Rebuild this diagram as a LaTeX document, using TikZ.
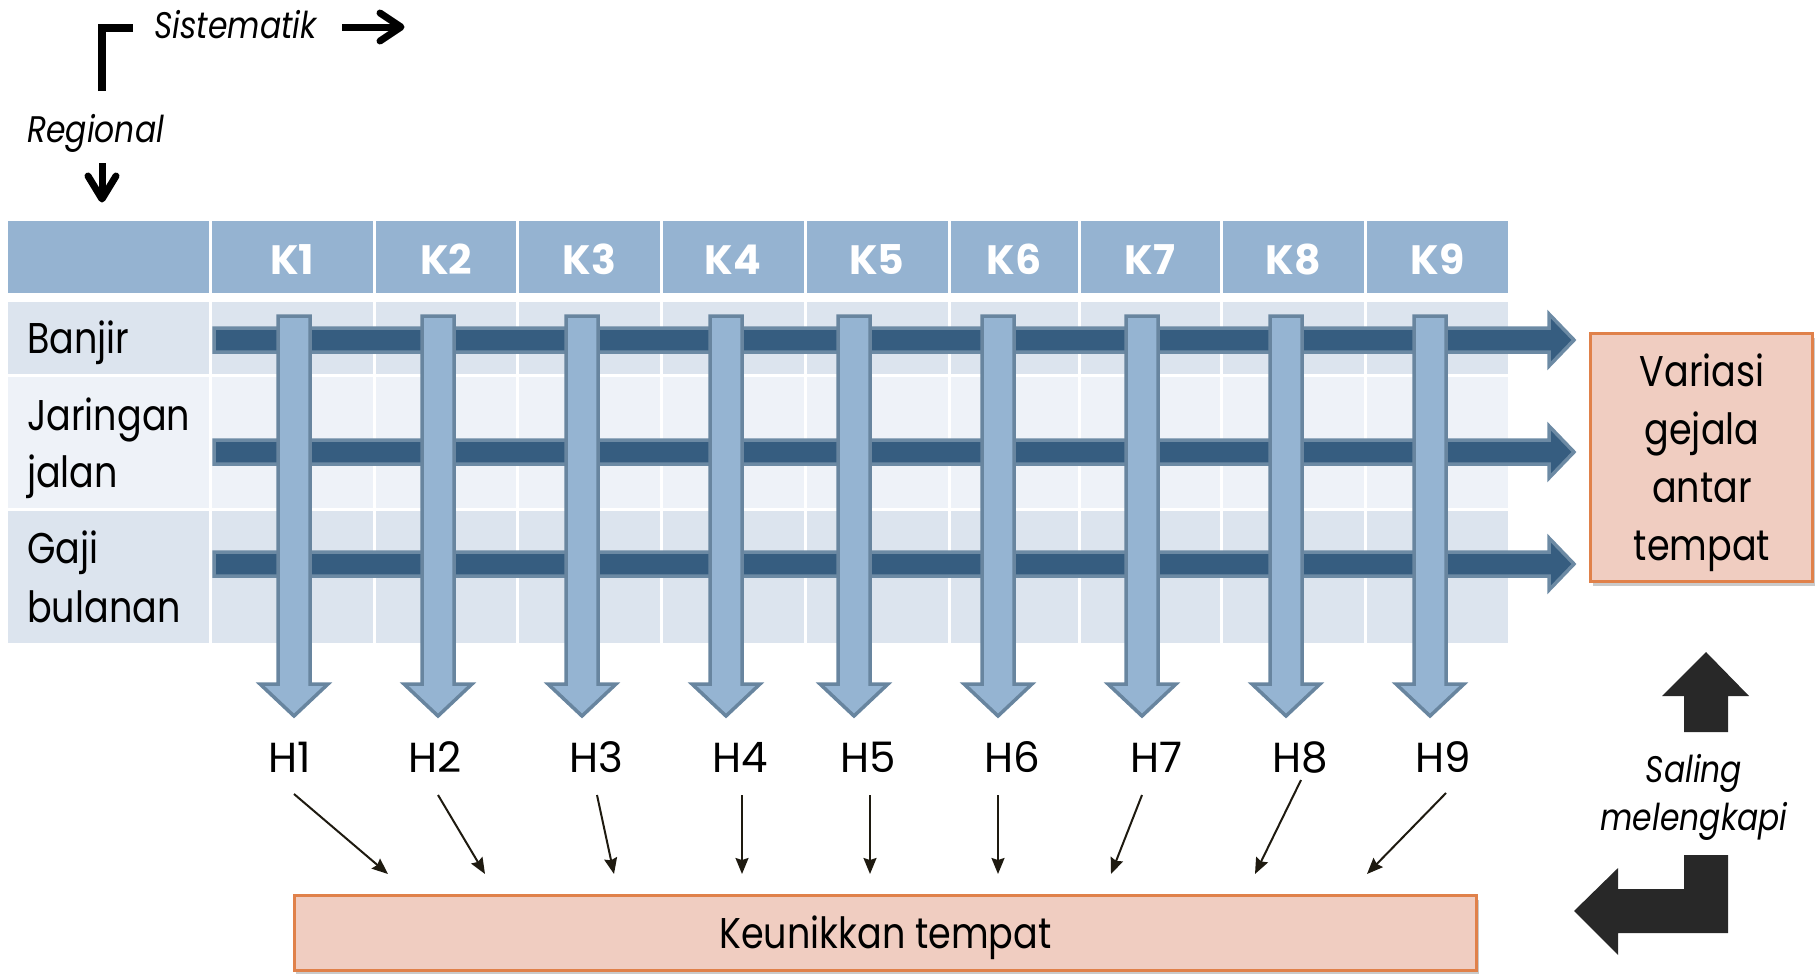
\documentclass[tikz,border=0pt]{standalone}
\usepackage{fontspec}
\setmainfont[FakeStretch=0.85]{Poppins}
\newfontfamily\widefont{Poppins}
\usetikzlibrary{arrows.meta,shadows}

\definecolor{hdr}{HTML}{95B3D1}
\definecolor{rowA}{HTML}{DCE4EE}
\definecolor{rowB}{HTML}{EEF2F8}
\definecolor{barfill}{HTML}{365D80}
\definecolor{barline}{HTML}{6C8AA4}
\definecolor{vfill}{HTML}{95B4D2}
\definecolor{vline}{HTML}{68859F}
\definecolor{boxfill}{HTML}{F0CDC1}
\definecolor{boxline}{HTML}{E0814A}
\definecolor{ink}{HTML}{282828}
\definecolor{thin}{HTML}{1E1A10}

\begin{document}
\begin{tikzpicture}[x=1bp,y=-1bp,
  cell/.style={draw=white, line width=3bp},
  hbar/.style={fill=barfill, draw=barline, line width=3.5bp},
  vbar/.style={fill=vfill, draw=vline, line width=3.5bp},
  obox/.style={fill=boxfill, draw=boxline, line width=3bp, inner sep=0pt,
    drop shadow={shadow xshift=2bp, shadow yshift=-4bp, opacity=0.35, fill=black!60}},
  main/.style={font=\fontsize{43bp}{57bp}\selectfont, inner sep=0pt, text=black},
  result/.style={font=\fontsize{42bp}{57bp}\selectfont\widefont, inner sep=0pt, text=black},
  headtxt/.style={font=\fontsize{41bp}{50bp}\selectfont\widefont\bfseries, text=white, inner sep=0pt},
  ital/.style={font=\fontsize{37bp}{48.5bp}\selectfont\itshape, inner sep=0pt, text=black},
  hint/.style={-{Stealth[length=16bp,width=13bp,inset=2bp]}, line width=2bp, draw=thin},
  block/.style={fill=ink},
  pen/.style={line width=7bp, draw=black}
]
\useasboundingbox (0,0) rectangle (1818,973);

% table cells
\foreach \a/\b in {6.5/210.5, 210.5/374, 374/517.5, 517.5/661.5, 661.5/805,
                   805/949, 949/1079, 1079/1221.5, 1221.5/1365.5, 1365.5/1509.5} {
  \path[cell, fill=hdr]  (\a,219.5) rectangle (\b,294.5);
  \path[cell, fill=rowA] (\a,300.5) rectangle (\b,375);
  \path[cell, fill=rowB] (\a,375)   rectangle (\b,509);
  \path[cell, fill=rowA] (\a,509)   rectangle (\b,644);
}

% column headings
\foreach \x/\k in {292/1, 446/2, 589.5/3, 733/4, 877/5, 1014/6, 1150/7, 1293.5/8, 1437.5/9}
  \node[headtxt, anchor=base] (k\k) at (\x,274) {K\k};

% row headings
\node[main, anchor=base west] (r1)  at (27,353) {Banjir};
\node[main, anchor=base west] (r2a) at (27,430) {Jaringan};
\node[main, anchor=base west] (r2b) at (27,487) {jalan};
\node[main, anchor=base west] (r3a) at (27,563) {Gaji};
\node[main, anchor=base west] (r3b) at (27,622) {bulanan};

% horizontal block arrows (per theme)
\foreach \y in {340,452,564}
  \draw[hbar] (214,\y-12) -- (1549,\y-12) -- (1549,\y-26) -- (1574,\y)
              -- (1549,\y+26) -- (1549,\y+12) -- (214,\y+12) -- cycle;

% vertical block arrows (per region)
\foreach \x in {294,438,582,726,854,998,1142,1286,1430}
  \draw[vbar] (\x-16,316) -- (\x+16,316) -- (\x+16,684) -- (\x+34,684)
              -- (\x,716) -- (\x-34,684) -- (\x-16,684) -- cycle;

% region results
\foreach \x/\k in {290/1, 435/2, 596/3, 740/4, 868/5, 1012/6, 1156/7, 1300/8, 1443/9}
  \node[result, anchor=base] (h\k) at (\x,772) {H\k};

% summary boxes
\node[obox, minimum width=222bp, minimum height=248bp] (var) at (1701.5,457.5) {};
\node[main, align=center, font=\fontsize{43bp}{58bp}\selectfont] (vartxt)
      at (1702,463) {Variasi\\gejala\\antar\\tempat};
\node[obox, minimum width=1182bp, minimum height=75bp, text height=30bp, text depth=0bp,
      font=\fontsize{43bp}{57bp}\selectfont] (keu) at (885.5,933) {Keunikkan tempat};

% pointers from each result to the bottom box
\foreach \k/\sx/\sy/\tx in {1/294/794/388, 2/438/795/485, 3/597/795/614, 4/742/795/742,
                            5/870/795/870, 6/998/795/998, 7/1142/795/1111,
                            8/1301/780/1255, 9/1446/793/1367} {
  \coordinate (s\k) at (\sx,\sy);
  \coordinate (t\k) at (\tx,874);
  \draw[hint] (s\k) -- (t\k);
}

% complementary relation
\fill[block] (1706,652) -- (1749,696) -- (1728,696) -- (1728,732) -- (1684,732)
             -- (1684,696) -- (1662,696) -- cycle;
\node[ital, align=center] (sal) at (1694,797.5) {Saling\\melengkapi};
\fill[block] (1728,855) -- (1728,933) -- (1618,933) -- (1618,955) -- (1574,911)
             -- (1618,868) -- (1618,889) -- (1684,889) -- (1684,855) -- cycle;

% reading directions
\draw[line width=8bp, line join=miter] (102,91) -- (102,28) -- (133,28);
\node[ital, anchor=base west] (sis) at (154,38) {Sistematik};
\draw[pen] (342,27) -- (399,27);
\draw[pen, line cap=round, line join=round] (380,13) -- (401,27) -- (380,41);
\node[ital, anchor=base west] (reg) at (27,142) {Regional};
\draw[pen] (102,163) -- (102,198);
\draw[pen, line cap=round, line join=round] (88,176) -- (102,199) -- (116,176);
\end{tikzpicture}
\end{document}
